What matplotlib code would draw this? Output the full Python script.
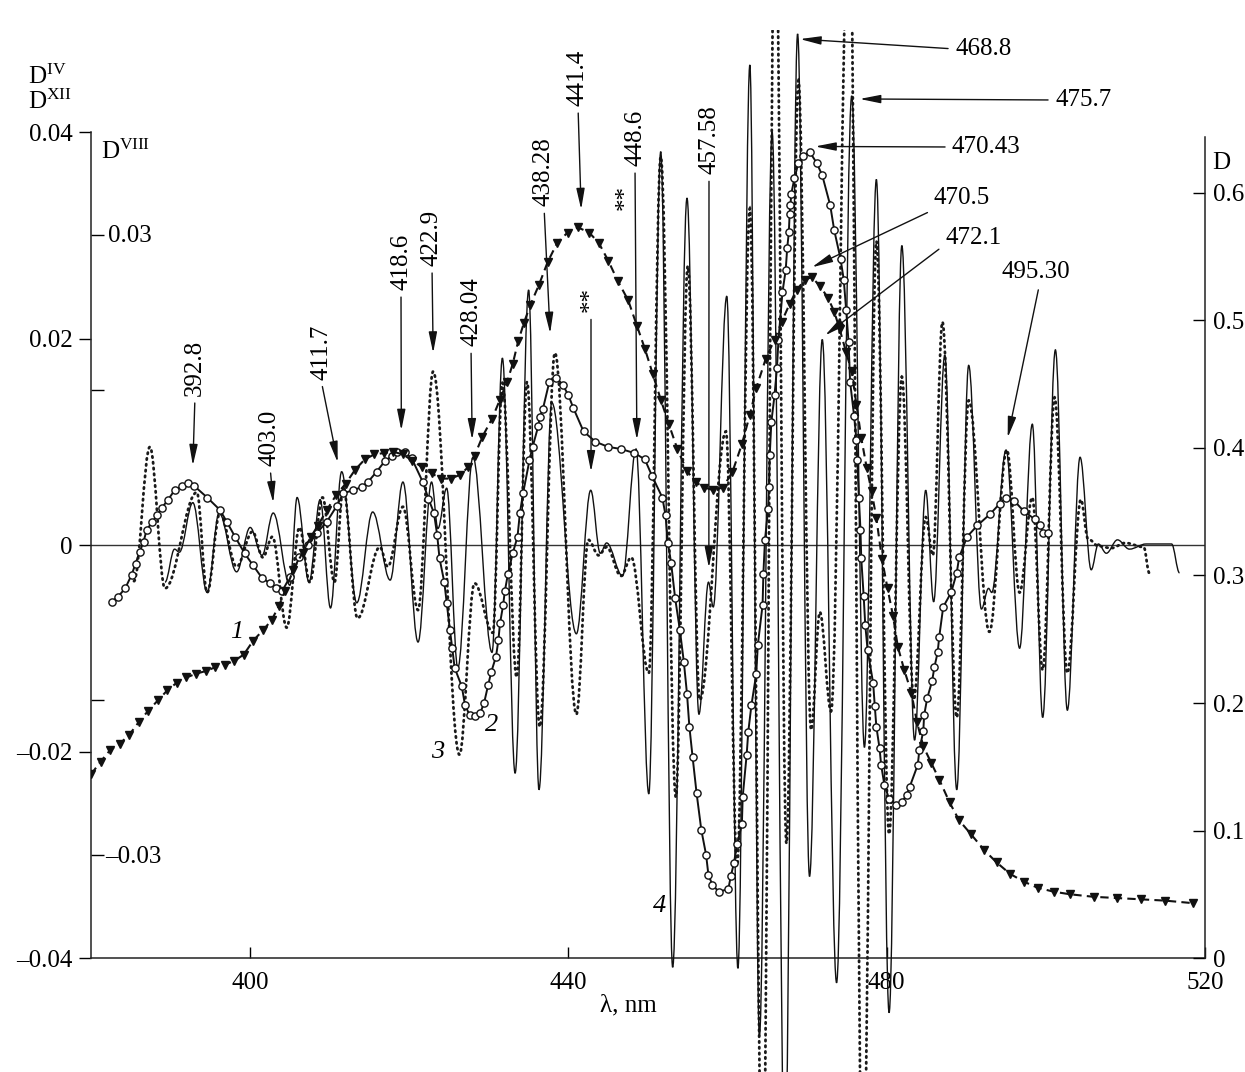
import matplotlib
matplotlib.use('Agg')
import matplotlib.pyplot as plt
from matplotlib.path import Path
from matplotlib.patches import PathPatch
from matplotlib.ticker import FixedLocator, FixedFormatter

plt.rcParams['font.family'] = ['Liberation Serif', 'DejaVu Serif']
plt.rcParams['mathtext.fontset'] = 'custom'
plt.rcParams['mathtext.rm'] = 'Liberation Serif'
plt.rcParams['mathtext.it'] = 'Liberation Serif:italic'

# curve 1: absorbance D (right axis), dashed with triangles
c1_wl = [380.0, 381.2, 382.4, 383.6, 384.8, 386.0, 387.2, 388.4, 389.6, 390.8,
         392.0, 393.2, 394.4, 395.6, 396.8, 398.0, 399.2, 400.4, 401.6, 402.7,
         403.6, 404.4, 405.4, 406.6, 407.6, 408.5, 409.6, 410.8, 412.0, 413.2,
         414.4, 415.6, 416.8, 418.0, 419.2, 420.4, 421.6, 422.8, 424.0, 425.2,
         426.4, 427.4, 428.2, 429.2, 430.4, 431.4, 432.3, 433.0, 433.7, 434.4,
         435.2, 436.3, 437.4, 438.6, 439.9, 441.2, 442.6, 443.8, 445.0, 446.2,
         447.5, 448.6, 449.6, 450.6, 451.6, 452.6, 453.7, 454.9, 456.0, 457.1,
         458.2, 459.4, 460.6, 461.8, 462.8, 463.6, 464.8, 465.9, 466.8, 467.8,
         468.7, 469.7, 470.6, 471.6, 472.6, 473.4, 474.1, 474.9, 475.6, 476.2,
         476.8, 477.5, 478.1, 478.7, 479.4, 480.1, 480.8, 481.4, 482.2, 483.1,
         483.8, 484.6, 485.6, 486.6, 487.9, 489.1, 490.6, 492.2, 493.8, 495.5,
         497.2, 499.0, 501.0, 503.0, 506.0, 509.0, 512.0, 515.0, 518.5]
c1_d = [0.144, 0.154, 0.163, 0.168, 0.175, 0.185, 0.194, 0.202, 0.210, 0.216,
        0.220, 0.223, 0.225, 0.228, 0.230, 0.233, 0.238, 0.249, 0.257, 0.265,
        0.276, 0.288, 0.304, 0.318, 0.330, 0.339, 0.351, 0.363, 0.372, 0.383,
        0.391, 0.395, 0.396, 0.397, 0.395, 0.390, 0.385, 0.380, 0.376, 0.376,
        0.379, 0.385, 0.394, 0.409, 0.423, 0.438, 0.452, 0.466, 0.484, 0.498,
        0.512, 0.528, 0.546, 0.561, 0.569, 0.573, 0.569, 0.561, 0.547, 0.531,
        0.516, 0.496, 0.478, 0.458, 0.438, 0.419, 0.399, 0.382, 0.373, 0.369,
        0.367, 0.369, 0.381, 0.403, 0.426, 0.447, 0.470, 0.485, 0.499, 0.513,
        0.524, 0.532, 0.534, 0.527, 0.518, 0.507, 0.493, 0.475, 0.460, 0.434,
        0.408, 0.384, 0.366, 0.345, 0.313, 0.290, 0.268, 0.244, 0.226, 0.208,
        0.185, 0.166, 0.153, 0.140, 0.122, 0.108, 0.097, 0.085, 0.075, 0.066,
        0.060, 0.055, 0.052, 0.050, 0.048, 0.047, 0.046, 0.045, 0.043]

# curve 2: D^IV (left axis), solid with open circles
c2_wl = [382.6, 383.4, 384.3, 385.1, 385.6, 386.1, 386.6, 387.0, 387.7, 388.3,
         388.9, 389.7, 390.5, 391.4, 392.2, 393.0, 394.6, 396.2, 397.1, 398.1,
         399.3, 400.3, 401.5, 402.5, 403.3, 404.0, 405.0, 406.2, 407.3, 408.4,
         409.6, 410.9, 411.7, 412.9, 414.0, 414.8, 415.9, 416.9, 417.8, 418.4,
         419.4, 420.3, 421.7, 422.4, 423.1, 423.5, 423.8, 424.4, 424.7, 425.1,
         425.4, 425.7, 426.6, 427.0, 427.6, 428.2, 428.9, 429.4, 429.9, 430.3,
         430.9, 431.2, 431.4, 431.8, 432.0, 432.4, 433.0, 433.6, 433.9, 434.3,
         435.1, 435.5, 436.2, 436.4, 436.8, 437.6, 438.5, 439.3, 440.0, 440.6,
         441.9, 443.4, 445.0, 446.6, 448.3, 449.6, 450.5, 451.8, 452.2, 452.5,
         452.9, 453.4, 454.0, 454.5, 454.9, 455.2, 455.6, 456.1, 456.7, 457.3,
         457.6, 458.1, 458.9, 460.1, 460.4, 460.8, 461.2, 461.8, 461.9, 462.4,
         462.6, 463.0, 463.6, 463.8, 464.4, 464.5, 464.7, 465.1, 465.2, 465.3,
         465.5, 465.9, 466.2, 466.4, 466.9, 467.3, 467.5, 467.7, 467.8, 467.9,
         468.0, 468.4, 468.9, 469.5, 470.3, 471.2, 471.9, 472.9, 473.4, 474.2,
         474.6, 474.9, 475.2, 475.4, 475.9, 476.2, 476.3, 476.5, 476.7, 476.8,
         477.1, 477.3, 477.6, 478.3, 478.5, 478.7, 479.1, 479.3, 479.7, 480.3,
         481.2, 481.9, 482.5, 482.9, 483.9, 484.1, 484.6, 484.7, 485.1, 485.7,
         486.0, 486.4, 486.6, 487.1, 488.1, 488.8, 489.1, 490.1, 491.4, 493.0,
         494.2, 495.0, 496.0, 497.2, 498.6, 499.3, 499.6, 500.3]
c2_d = [-0.0055, -0.0050, -0.0042, -0.0029, -0.0018, -0.0007, 0.0003, 0.0015, 0.0022, 0.0029,
        0.0036, 0.0044, 0.0053, 0.0057, 0.0060, 0.0057, 0.0046, 0.0034, 0.0022, 0.0008,
        -0.0008, -0.0019, -0.0032, -0.0037, -0.0042, -0.0045, -0.0031, -0.0012, 0.0000, 0.0012,
        0.0022, 0.0038, 0.0050, 0.0053, 0.0056, 0.0061, 0.0071, 0.0081, 0.0086, 0.0090,
        0.0090, 0.0084, 0.0061, 0.0045, 0.0031, 0.0010, -0.0013, -0.0036, -0.0056, -0.0082,
        -0.0100, -0.0119, -0.0137, -0.0155, -0.0165, -0.0166, -0.0163, -0.0153, -0.0136, -0.0123,
        -0.0108, -0.0092, -0.0076, -0.0058, -0.0045, -0.0028, -0.0008, 0.0008, 0.0031, 0.0050,
        0.0082, 0.0095, 0.0115, 0.0124, 0.0132, 0.0158, 0.0162, 0.0155, 0.0145, 0.0133,
        0.0110, 0.0100, 0.0095, 0.0093, 0.0089, 0.0083, 0.0067, 0.0046, 0.0029, 0.0002,
        -0.0017, -0.0051, -0.0082, -0.0113, -0.0144, -0.0176, -0.0205, -0.0240, -0.0276, -0.0300,
        -0.0320, -0.0329, -0.0336, -0.0333, -0.0321, -0.0308, -0.0290, -0.0270, -0.0244, -0.0203,
        -0.0181, -0.0155, -0.0125, -0.0097, -0.0058, -0.0028, 0.0005, 0.0035, 0.0056, 0.0087,
        0.0119, 0.0145, 0.0171, 0.0199, 0.0245, 0.0266, 0.0288, 0.0303, 0.0321, 0.0329,
        0.0340, 0.0355, 0.0370, 0.0377, 0.0381, 0.0370, 0.0358, 0.0329, 0.0305, 0.0277,
        0.0257, 0.0228, 0.0197, 0.0158, 0.0125, 0.0102, 0.0082, 0.0046, 0.0015, -0.0013,
        -0.0049, -0.0077, -0.0102, -0.0134, -0.0156, -0.0176, -0.0197, -0.0213, -0.0232, -0.0246,
        -0.0252, -0.0249, -0.0242, -0.0234, -0.0213, -0.0199, -0.0180, -0.0165, -0.0148, -0.0132,
        -0.0118, -0.0104, -0.0089, -0.0060, -0.0046, -0.0027, -0.0012, 0.0008, 0.0019, 0.0030,
        0.0040, 0.0046, 0.0043, 0.0033, 0.0025, 0.0019, 0.0012, 0.0012]

# curve 3: D^VIII (left axis), dotted -- turning points of the trace
c3_wl = [385.4, 387.4, 389.3, 393.3, 394.6, 396.2, 398.3, 400.3, 401.6, 402.8,
         404.6, 406.2, 407.5, 409.1, 410.6, 411.7, 413.5, 416.3, 417.3, 419.2,
         421.1, 423.0, 426.3, 428.2, 430.5, 431.7, 433.5, 434.8, 436.4, 438.3,
         441.0, 442.5, 443.8, 444.8, 446.6, 447.9, 450.1, 451.6, 453.5, 455.0,
         456.5, 459.8, 461.2, 462.8, 464.4, 466.0, 467.4, 468.9, 470.5, 471.6,
         473.0, 475.3, 477.0, 478.7, 480.3, 481.9, 483.4, 484.9, 485.8, 487.0,
         488.8, 490.3, 492.9, 495.1, 496.7, 498.3, 499.6, 501.1, 502.7, 504.4,
         505.3, 506.6, 508.2, 510.0, 512.3, 513.0]
c3_d = [-0.0035, 0.0095, -0.0042, 0.0051, -0.0046, 0.0031, -0.0021, 0.0013, -0.0012, 0.0008,
        -0.0080, 0.0017, -0.0036, 0.0046, -0.0036, 0.0055, -0.0071, -0.0002, -0.0021, 0.0037,
        -0.0063, 0.0168, -0.0203, -0.0037, -0.0085, 0.0157, -0.0128, 0.0158, -0.0176, 0.0186,
        -0.0164, 0.0005, -0.0010, -0.0002, -0.0030, -0.0012, -0.0124, 0.0376, -0.0244, 0.0270,
        -0.0150, 0.0110, -0.0310, 0.0326, -0.0650, 0.0650, -0.0289, 0.0450, -0.0179, -0.0065,
        -0.0161, 0.0650, -0.0650, 0.0294, -0.0280, 0.0163, -0.0150, 0.0027, -0.0010, 0.0216,
        -0.0167, 0.0140, -0.0084, 0.0092, -0.0046, 0.0046, -0.0121, 0.0143, -0.0124, 0.0044,
        0.0006, -0.0001, -0.0003, 0.0002, -0.0002, -0.0027]

# curve 4: D^XII (left axis), thin solid -- turning points of the trace
c4_wl = [389.3, 390.5, 391.1, 392.8, 394.6, 396.1, 398.3, 400.0, 401.5, 402.9,
         405.0, 405.9, 407.4, 408.8, 410.1, 411.5, 413.4, 415.4, 417.6, 419.2,
         421.1, 422.8, 423.6, 424.7, 426.1, 428.0, 430.4, 431.7, 433.3, 435.0,
         436.3, 437.9, 441.0, 442.8, 444.0, 444.8, 446.8, 448.5, 450.1, 451.6,
         453.1, 454.9, 456.4, 457.6, 458.2, 459.9, 461.3, 462.8, 464.0, 465.6,
         467.2, 468.8, 470.3, 471.9, 473.7, 475.6, 477.2, 478.7, 480.3, 481.9,
         483.5, 484.9, 485.9, 487.3, 488.8, 490.3, 491.9, 492.8, 493.2, 495.0,
         496.7, 498.3, 499.6, 501.2, 502.7, 504.3, 505.7, 506.6, 507.6, 509.0,
         510.5, 512.6, 515.8, 516.8]
c4_d = [-0.0036, -0.0004, -0.0007, 0.0041, -0.0046, 0.0031, -0.0026, 0.0017, -0.0010, 0.0031,
        -0.0039, 0.0046, -0.0036, 0.0044, -0.0061, 0.0071, -0.0056, 0.0032, -0.0034, 0.0061,
        -0.0094, 0.0061, 0.0016, 0.0055, -0.0119, 0.0085, -0.0104, 0.0181, -0.0221, 0.0247,
        -0.0237, 0.0138, -0.0086, 0.0053, -0.0008, 0.0002, -0.0030, 0.0093, -0.0241, 0.0381,
        -0.0409, 0.0336, -0.0164, -0.0036, -0.0060, 0.0241, -0.0410, 0.0465, -0.0476, 0.0400,
        -0.0600, 0.0495, -0.0321, 0.0199, -0.0424, 0.0435, -0.0196, 0.0354, -0.0453, 0.0290,
        -0.0189, 0.0053, -0.0055, 0.0184, -0.0237, 0.0174, -0.0062, -0.0042, -0.0046, 0.0092,
        -0.0100, 0.0117, -0.0167, 0.0189, -0.0160, 0.0085, -0.0024, 0.0001, -0.0008, 0.0005,
        -0.0004, 0.0001, 0.0001, -0.0027]

left_ticks = [-0.04, -0.02, 0, 0.02, 0.04]
left_labels = ['\u20130.04', '\u20130.02', '0', '0.02', '0.04']
right_ticks = [0, 0.1, 0.2, 0.3, 0.4, 0.5, 0.6]
right_labels = ['0', '0.1', '0.2', '0.3', '0.4', '0.5', '0.6']
x_ticks = [400, 440, 480, 520]


def wave_path(xs, ys, k=0.36):
    # smooth trace through turning points, flat tangent at each one
    verts = [(xs[0], ys[0])]
    codes = [Path.MOVETO]
    for x0, y0, x1, y1 in zip(xs[:-1], ys[:-1], xs[1:], ys[1:]):
        d = x1 - x0
        verts += [(x0 + k * d, y0), (x1 - k * d, y1), (x1, y1)]
        codes += [Path.CURVE4] * 3
    return Path(verts, codes)


W, H = 1245, 1072
fig = plt.figure(figsize=(W / 100, H / 100), dpi=100)
ax = fig.add_axes([91 / W, 0, 1114 / W, 1042 / H])
ax.set_xlim(380, 520)
ax.set_ylim(-0.051041, 0.049879)
ax.patch.set_alpha(0)

ax2 = ax.twinx()
ax2.set_ylim(-0.08941, 0.72784)

for s in ['top', 'right']:
    ax.spines[s].set_visible(False)
for s in ['top', 'left', 'bottom']:
    ax2.spines[s].set_visible(False)
ax.spines['left'].set_bounds(-0.04, 0.04)
ax.spines['bottom'].set_position(('data', -0.04))
ax2.spines['right'].set_bounds(0, 0.644)
for sp in [ax.spines['left'], ax.spines['bottom'], ax2.spines['right']]:
    sp.set_linewidth(1.1)
    sp.set_color('#222222')

ax.axhline(0, color='#333333', lw=1.0, zorder=1)

ax.set_xticks(x_ticks)
ax.set_xticklabels([str(t) for t in x_ticks])
ax.tick_params(axis='x', direction='in', length=8, width=1, pad=10, labelsize=18)
ax.yaxis.set_major_locator(FixedLocator(left_ticks))
ax.yaxis.set_major_formatter(FixedFormatter(left_labels))
ax.yaxis.set_minor_locator(FixedLocator([-0.03, -0.015, 0.015, 0.03]))
ax.tick_params(axis='y', which='major', direction='out', length=9, width=1, pad=4, labelsize=18)
ax.tick_params(axis='y', which='minor', direction='in', length=9, width=1)
ax2.yaxis.set_major_locator(FixedLocator(right_ticks))
ax2.yaxis.set_major_formatter(FixedFormatter(right_labels))
ax2.tick_params(axis='y', direction='in', length=9, width=1, pad=6, labelsize=18)

# traces 3 and 4
ax.add_patch(PathPatch(wave_path(c3_wl, c3_d), fill=False, ec='#1a1a1a', lw=2.0,
                       ls=(0, (0.5, 1.6)), capstyle='round', zorder=2))
ax.add_patch(PathPatch(wave_path(c4_wl, c4_d), fill=False, ec='#111111', lw=1.0, zorder=3))

# trace 2
ax.plot(c2_wl, c2_d, color='#111111', lw=1.4, marker='o', ms=5.2, mfc='white',
        mec='#111111', mew=1.0, zorder=5)
# trace 1
ax2.plot(c1_wl, c1_d, color='#111111', lw=1.5, ls=(0, (4, 2.5)), marker='v', ms=5.5,
         mfc='#111111', mec='#111111', zorder=4)


def fp(px, py):
    return (px, H - py)


arrow = dict(arrowstyle='-|>,head_length=0.7,head_width=0.14', color='#111111',
             lw=1.0, shrinkA=3, shrinkB=0)

vert_notes = [
    ('392.8', (195, 368), (392.8, 0.0077)),
    ('403.0', (270, 438), (402.9, 0.0041)),
    ('411.7', (321, 352), (411.0, 0.0080)),
    ('418.6', (401, 262), (419.0, 0.0111)),
    ('422.9', (432, 238), (423.0, 0.0186)),
    ('428.04', (471, 312), (427.9, 0.0102)),
    ('438.28', (544, 172), (437.7, 0.0205)),
    ('441.4', (578, 78), (441.6, 0.0325)),
    ('448.6', (635, 138), (448.6, 0.0102)),
    ('457.58', (709, 140), (457.65, -0.0022)),
]
for txt, tpos, tip in vert_notes:
    ax.annotate(txt, xy=tip, xycoords='data', xytext=fp(*tpos), textcoords='figure pixels',
                rotation=90, ha='center', va='center', fontsize=18,
                arrowprops=dict(arrow, relpos=(0.5, 0.0)), annotation_clip=False)

ax.annotate('**', xy=(442.84, 0.0071), xycoords='data', xytext=fp(591, 300),
            textcoords='figure pixels', rotation=90, ha='center', va='center',
            fontsize=18, arrowprops=dict(arrow, relpos=(0.5, 0.0)))
fig.text(626 / W, 1 - 198 / H, '**', rotation=90, ha='center', va='center', fontsize=18)

horiz_notes = [
    ('468.8', (955, 49), (469.1, 0.0490), (0.0, 0.5)),
    ('475.7', (1055, 100), (476.6, 0.0432), (0.0, 0.5)),
    ('470.43', (952, 147), (471.0, 0.0386), (0.0, 0.5)),
    ('470.5', (934, 198), (470.6, 0.0269), (0.1, 0.1)),
    ('472.1', (945, 238), (472.25, 0.0203), (0.0, 0.2)),
    ('495.30', (1002, 272), (495.2, 0.0104), (0.55, 0.0)),
]
for txt, tpos, tip, rp in horiz_notes:
    ax.annotate(txt, xy=tip, xycoords='data', xytext=fp(*tpos), textcoords='figure pixels',
                ha='left', va='center', fontsize=18,
                arrowprops=dict(arrow, relpos=rp), annotation_clip=False)

# curve numbers
for txt, (px, py) in [('1', (237, 632)), ('2', (492, 725)), ('3', (438, 752)), ('4', (660, 906))]:
    fig.text(px / W, 1 - py / H, txt, ha='center', va='center', fontsize=19, style='italic')

# axis labels
fig.text(28 / W, 1 - 77 / H, r'D$^{\mathrm{IV}}$', ha='left', va='center', fontsize=18)
fig.text(28 / W, 1 - 102 / H, r'D$^{\mathrm{XII}}$', ha='left', va='center', fontsize=18)
fig.text(101 / W, 1 - 152 / H, r'D$^{\mathrm{VIII}}$', ha='left', va='center', fontsize=18)
fig.text(108 / W, 1 - 236 / H, '0.03', ha='left', va='center', fontsize=18)
fig.text(105 / W, 1 - 857 / H, '\u20130.03', ha='left', va='center', fontsize=18)
fig.text(1212 / W, 1 - 163 / H, 'D', ha='left', va='center', fontsize=18)
fig.text(628 / W, 1 - 1005 / H, '\u03bb, nm', ha='center', va='center', fontsize=18)

fig.savefig('out.png', dpi=100)
